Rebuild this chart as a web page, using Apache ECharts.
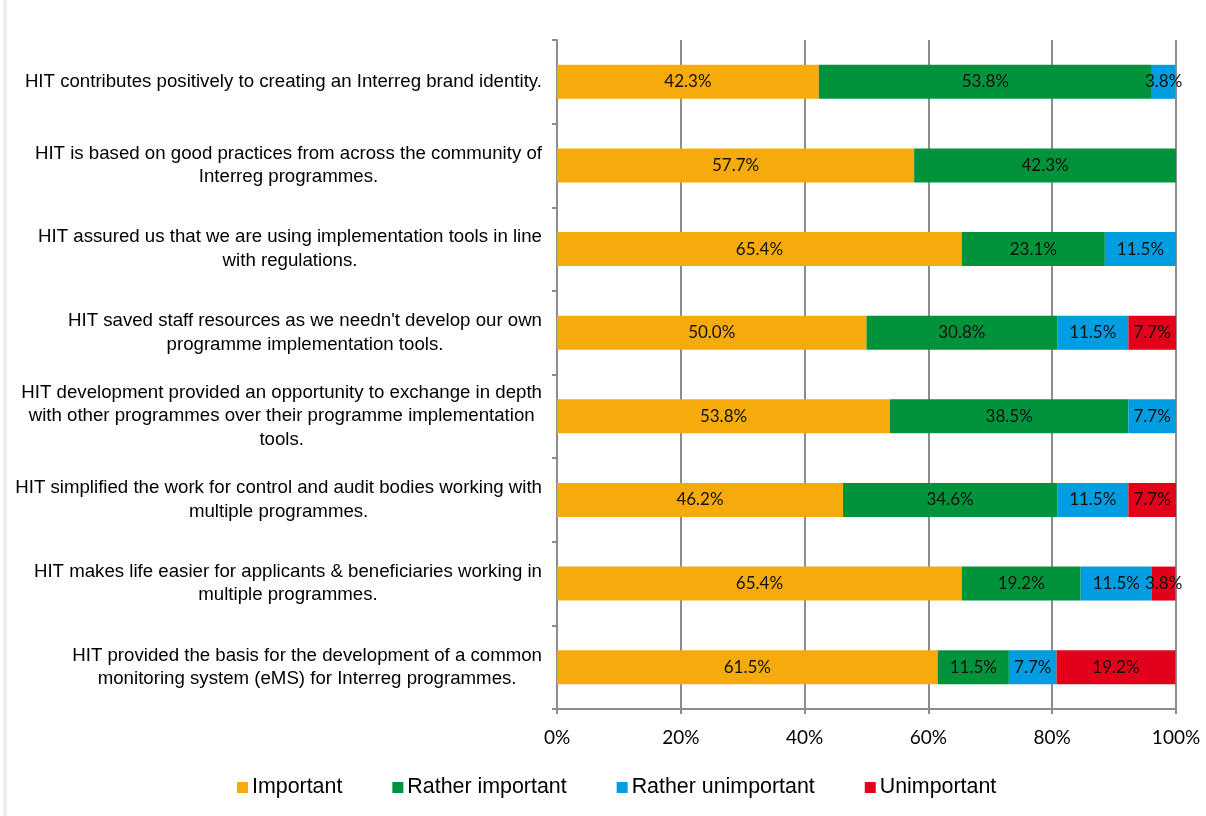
<!DOCTYPE html>
<html>
<head>
<meta charset="utf-8">
<script src="https://cdn.jsdelivr.net/npm/echarts@6/dist/echarts.min.js"></script>
<style>
  html, body { margin: 0; padding: 0; background: #fff; }
  #chart { width: 1206px; height: 816px; }
</style>
</head>
<body>
<div id="chart"></div>
<script>
// categories, top to bottom
const categories = [
  'HIT contributes positively to creating an Interreg brand identity.',
  'HIT is based on good practices from across the community of\nInterreg programmes.',
  'HIT assured us that we are using implementation tools in line\nwith regulations.',
  "HIT saved staff resources as we needn't develop our own\nprogramme implementation tools.",
  'HIT development provided an opportunity to exchange in depth\nwith other programmes over their programme implementation\ntools.',
  'HIT simplified the work for control and audit bodies working with\nmultiple programmes.',
  'HIT makes life easier for applicants & beneficiaries working in\nmultiple programmes.',
  'HIT provided the basis for the development of a common\nmonitoring system (eMS) for Interreg programmes.',
];

// percentages per answer
const important = [42.3, 57.7, 65.4, 50.0, 53.8, 46.2, 65.4, 61.5];
const ratherImportant = [53.8, 42.3, 23.1, 30.8, 38.5, 34.6, 19.2, 11.5];
const ratherUnimportant = [3.8, 0, 11.5, 11.5, 7.7, 11.5, 11.5, 7.7];
const unimportant = [0, 0, 0, 7.7, 0, 7.7, 3.8, 19.2];

const seriesNames = ['Important', 'Rather important', 'Rather unimportant', 'Unimportant'];
const colors = ['#F7AA0B', '#00933B', '#009EE0', '#E3001B'];

const chart = echarts.init(document.getElementById('chart'));

const mkSeries = (name, data, color) => ({
  name,
  type: 'bar',
  stack: 'total',
  data,
  barWidth: 34,
  itemStyle: { color },
  label: {
    show: true,
    position: 'inside',
    fontFamily: 'Lato',
    fontSize: 17,
    color: '#111',
    formatter: (p) => (p.value > 0 ? p.value.toFixed(1) + '%' : ''),
  },
});

const gridColor = '#8c8c8c';

chart.setOption({
  animation: false,
  color: colors,
  graphic: [
    { type: 'rect', shape: { x: 3, y: 0, width: 4, height: 816 }, style: { fill: '#eeeeee' } },
  ],
  grid: { left: 557, right: 30, top: 40, bottom: 107 },
  legend: {
    left: 232,
    top: 772,
    itemWidth: 11,
    itemHeight: 11,
    itemGap: 50,
    icon: 'rect',
    textStyle: { fontFamily: 'Liberation Sans', fontSize: 21.4, color: '#000', padding: [0, 0, 0, -1] },
    data: seriesNames,
  },
  xAxis: {
    type: 'value',
    min: 0,
    max: 100,
    interval: 20,
    axisLine: { show: true, lineStyle: { color: gridColor, width: 2 } },
    axisTick: { show: true, length: 5, lineStyle: { color: gridColor, width: 2 } },
    splitLine: { show: true, lineStyle: { color: gridColor, width: 2 } },
    axisLabel: { fontFamily: 'Lato', fontSize: 19, color: '#000', margin: 19, formatter: '{value}%' },
  },
  yAxis: {
    type: 'category',
    inverse: true,
    data: categories,
    axisLine: { show: true, lineStyle: { color: gridColor, width: 2 } },
    axisTick: { show: true, length: 5, lineStyle: { color: gridColor, width: 2 } },
    axisLabel: {
      margin: 15,
      align: 'right',
      formatter: (v) => v.split('\n').map((l) => '{c|' + l + '}').join('\n'),
      rich: {
        c: { align: 'center', fontFamily: 'Liberation Sans', fontSize: 18.67, lineHeight: 23.5, color: '#000' },
      },
    },
  },
  series: [
    mkSeries(seriesNames[0], important, colors[0]),
    mkSeries(seriesNames[1], ratherImportant, colors[1]),
    mkSeries(seriesNames[2], ratherUnimportant, colors[2]),
    mkSeries(seriesNames[3], unimportant, colors[3]),
  ],
});
</script>
</body>
</html>
